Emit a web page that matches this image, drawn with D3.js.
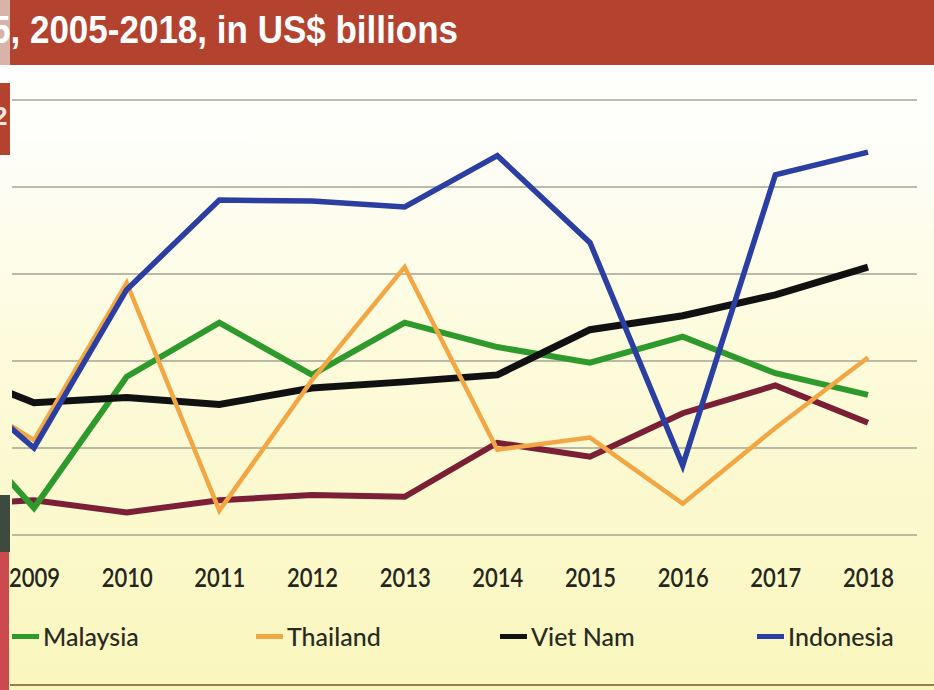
<!DOCTYPE html>
<html>
<head>
<meta charset="utf-8">
<script src="https://cdn.jsdelivr.net/npm/d3@7"></script>
<style>
  html, body { margin: 0; padding: 0; background: #ffffff; }
  svg { display: block; }
</style>
</head>
<body>
<svg id="chart" width="934" height="690"></svg>
<script>
// FDI inflows, US$ billions
const years       = [2008, 2009, 2010, 2011, 2012, 2013, 2014, 2015, 2016, 2017, 2018];
const malaysia    = [7.5, 1.55, 9.1, 12.2, 9.2, 12.2, 10.8, 9.9, 11.4, 9.3, 8.05];
const thailand    = [8.8, 5.45, 14.5, 1.4, 8.9, 15.4, 4.9, 5.6, 1.8, 6.15, 10.2];
const vietNam     = [9.7, 7.6, 7.9, 7.5, 8.45, 8.8, 9.2, 11.8, 12.6, 13.8, 15.4];
const indonesia   = [9.6, 5.0, 14.1, 19.25, 19.2, 18.85, 21.8, 16.8, 4.0, 20.7, 22.0];
const philippines = [1.7, 2.0, 1.3, 2.0, 2.3, 2.2, 5.3, 4.5, 7.0, 8.6, 6.45];

const yTicks = [0, 5, 10, 15, 20, 25];
const xTickYears = [2009, 2010, 2011, 2012, 2013, 2014, 2015, 2016, 2017, 2018];
const titleText = "5, 2005-2018, in US$ billions";

const legendNames = ["Malaysia", "Thailand", "Viet Nam", "Indonesia"];

// series in drawing order (bottom to top)
const series = [
  { key: "philippines", values: philippines, color: "#7b1f36", width: 6 },
  { key: "Malaysia",    values: malaysia,    color: "#2f9a2c", width: 6 },
  { key: "Viet Nam",    values: vietNam,     color: "#111111", width: 7 },
  { key: "Thailand",    values: thailand,    color: "#f2a744", width: 4.5 },
  { key: "Indonesia",   values: indonesia,   color: "#2b3fa3", width: 5.5 }
];

const svg = d3.select("#chart");
const W = 934, H = 690;

// ---- background: white fading to pale yellow ----
const defs = svg.append("defs");
const bg = defs.append("linearGradient").attr("id", "bgGrad")
  .attr("x1", 0).attr("y1", 0).attr("x2", 0).attr("y2", 1);
bg.append("stop").attr("offset", "0%").attr("stop-color", "#ffffff");
bg.append("stop").attr("offset", "20%").attr("stop-color", "#fefefa");
bg.append("stop").attr("offset", "50%").attr("stop-color", "#fdfbdc");
bg.append("stop").attr("offset", "100%").attr("stop-color", "#faf6bd");

svg.append("rect").attr("x", 0).attr("y", 0).attr("width", W).attr("height", H)
  .attr("fill", "url(#bgGrad)");

// ---- header band ----
svg.append("rect").attr("x", 10).attr("y", 0).attr("width", W - 10).attr("height", 65)
  .attr("fill", "#b3432f");
svg.append("rect").attr("x", 0).attr("y", 0).attr("width", 10).attr("height", 65)
  .attr("fill", "#d9b3a8");

defs.append("clipPath").attr("id", "titleClip")
  .append("rect").attr("x", 0).attr("y", 0).attr("width", W).attr("height", 65);

svg.append("g").attr("clip-path", "url(#titleClip)")
  .append("text")
  .attr("x", -9).attr("y", 43)
  .attr("font-family", "'Liberation Sans', Arial, sans-serif")
  .attr("font-weight", "bold")
  .attr("font-size", 38)
  .attr("fill", "#ffffff")
  .attr("textLength", 467)
  .attr("lengthAdjust", "spacingAndGlyphs")
  .text(titleText);

// ---- left edge strips ----
svg.append("rect").attr("x", 0).attr("y", 83).attr("width", 10).attr("height", 72).attr("fill", "#b3432f");
defs.append("clipPath").attr("id", "edgeClip")
  .append("rect").attr("x", 0).attr("y", 83).attr("width", 10).attr("height", 72);
svg.append("text").attr("clip-path", "url(#edgeClip)")
  .attr("x", -7).attr("y", 125)
  .attr("font-family", "'Liberation Sans', Arial, sans-serif")
  .attr("font-weight", "bold").attr("font-size", 26)
  .attr("fill", "#f4e6e0").text("2");
svg.append("rect").attr("x", 0).attr("y", 495).attr("width", 10).attr("height", 57).attr("fill", "#3d4a40");
svg.append("rect").attr("x", 0).attr("y", 552).attr("width", 9).attr("height", H - 552).attr("fill", "#cc4a4e");

// ---- scales ----
const x = d3.scaleLinear().domain([2009, 2018]).range([34, 868]);
const y = d3.scaleLinear().domain([0, 25]).range([535, 100]);

// ---- gridlines ----
svg.append("g").selectAll("line").data(yTicks).join("line")
  .attr("x1", 12).attr("x2", 917)
  .attr("y1", d => y(d)).attr("y2", d => y(d))
  .attr("stroke", "#a5a595").attr("stroke-width", 1.6);

// ---- lines ----
defs.append("clipPath").attr("id", "plotClip")
  .append("rect").attr("x", 12).attr("y", 66).attr("width", W - 12).attr("height", 500);

const line = d3.line()
  .x((d, i) => x(years[i]))
  .y(d => y(d));

svg.append("g").attr("clip-path", "url(#plotClip)")
  .selectAll("path").data(series).join("path")
  .attr("d", d => line(d.values))
  .attr("fill", "none")
  .attr("stroke", d => d.color)
  .attr("stroke-width", d => d.width)
  .attr("stroke-linejoin", "miter")
  .attr("stroke-linecap", "butt");

// ---- x axis labels ----
const xAxis = d3.axisBottom(x).tickValues(xTickYears).tickFormat(d3.format("d")).tickSize(0).tickPadding(0);
const gx = svg.append("g").attr("transform", "translate(0,567)").call(xAxis);
gx.select(".domain").remove();
gx.selectAll("text")
  .attr("dy", 0).attr("y", 20)
  .attr("font-family", "Lato, 'Open Sans', sans-serif")
  .attr("font-weight", "600")
  .attr("font-size", 27)
  .attr("fill", "#262620")
  .attr("textLength", 51)
  .attr("lengthAdjust", "spacingAndGlyphs");

// ---- legend ----
const legendX = [12, 256, 500, 757];
const lg = svg.append("g");
legendNames.forEach((name, i) => {
  const s = series.find(t => t.key === name);
  const g = lg.append("g").attr("transform", `translate(${legendX[i]},0)`);
  g.append("rect").attr("x", 0).attr("y", 634).attr("width", 27).attr("height", 5)
    .attr("fill", s.color);
  g.append("text").attr("x", 31).attr("y", 646)
    .attr("font-family", "Lato, 'Open Sans', sans-serif")
    .attr("font-weight", "500")
    .attr("font-size", 25)
    .attr("fill", "#2a2a24")
    .text(name);
});

// ---- bottom rule ----
svg.append("line").attr("x1", 10).attr("x2", W).attr("y1", 685).attr("y2", 685)
  .attr("stroke", "#9c7a4a").attr("stroke-width", 2);
</script>
</body>
</html>
